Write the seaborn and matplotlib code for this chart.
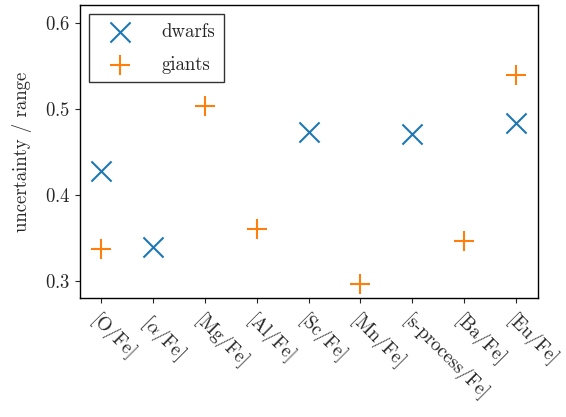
import matplotlib
matplotlib.use("Agg")
import matplotlib.pyplot as plt
import seaborn as sns
import numpy as np
import pandas as pd

# abundance ratios and their uncertainty / range
labels = ["[O/Fe]", r"[$\alpha$/Fe]", "[Mg/Fe]", "[Al/Fe]", "[Sc/Fe]",
          "[Mn/Fe]", "[s-process/Fe]", "[Ba/Fe]", "[Eu/Fe]"]
dwarfs = [0.428, 0.339, np.nan, np.nan, 0.473, np.nan, 0.471, np.nan, 0.484]
giants = [0.337, np.nan, 0.504, 0.360, np.nan, 0.297, np.nan, 0.347, 0.540]

sns.set_style("ticks")
plt.rcParams["font.family"] = ["cmr10", "DejaVu Serif"]
plt.rcParams["mathtext.fontset"] = "cm"
plt.rcParams["axes.formatter.use_mathtext"] = True
plt.rcParams["axes.unicode_minus"] = False

xs = np.arange(len(labels))
df_d = pd.DataFrame({"x": xs, "y": dwarfs}).dropna()
df_g = pd.DataFrame({"x": xs, "y": giants}).dropna()

fig, ax = plt.subplots(figsize=(5.66, 4.17), dpi=100)
fig.subplots_adjust(left=0.141, right=0.951, top=0.988, bottom=0.285)

sns.scatterplot(data=df_d, x="x", y="y", marker="x", s=210, color="#1f77b4",
                linewidth=1.5, label="dwarfs", ax=ax)
sns.scatterplot(data=df_g, x="x", y="y", marker="+", s=210, color="#ff7f0e",
                linewidth=1.5, label="giants", ax=ax)

ax.set_xlim(-0.4, 8.42)
ax.set_ylim(0.28, 0.621)
ax.set_yticks([0.3, 0.4, 0.5, 0.6])
ax.set_xticks(xs)
ax.set_xticklabels(labels, rotation=-45, ha="left", va="top",
                   rotation_mode="anchor", fontsize=13.5)
ax.tick_params(axis="y", labelsize=13.5)
ax.tick_params(axis="x", pad=6)
ax.set_xlabel("")
ax.set_ylabel("uncertainty / range", fontsize=13.5, labelpad=9)
for sp in ax.spines.values():
    sp.set_color("black")
    sp.set_linewidth(1.0)

leg = ax.legend(loc="upper left", fontsize=13.5, fancybox=False, framealpha=1,
                edgecolor="#333333", borderpad=0.45, labelspacing=0.8,
                handlelength=2.4, handletextpad=1.0)

plt.savefig("out.png", dpi=100)
